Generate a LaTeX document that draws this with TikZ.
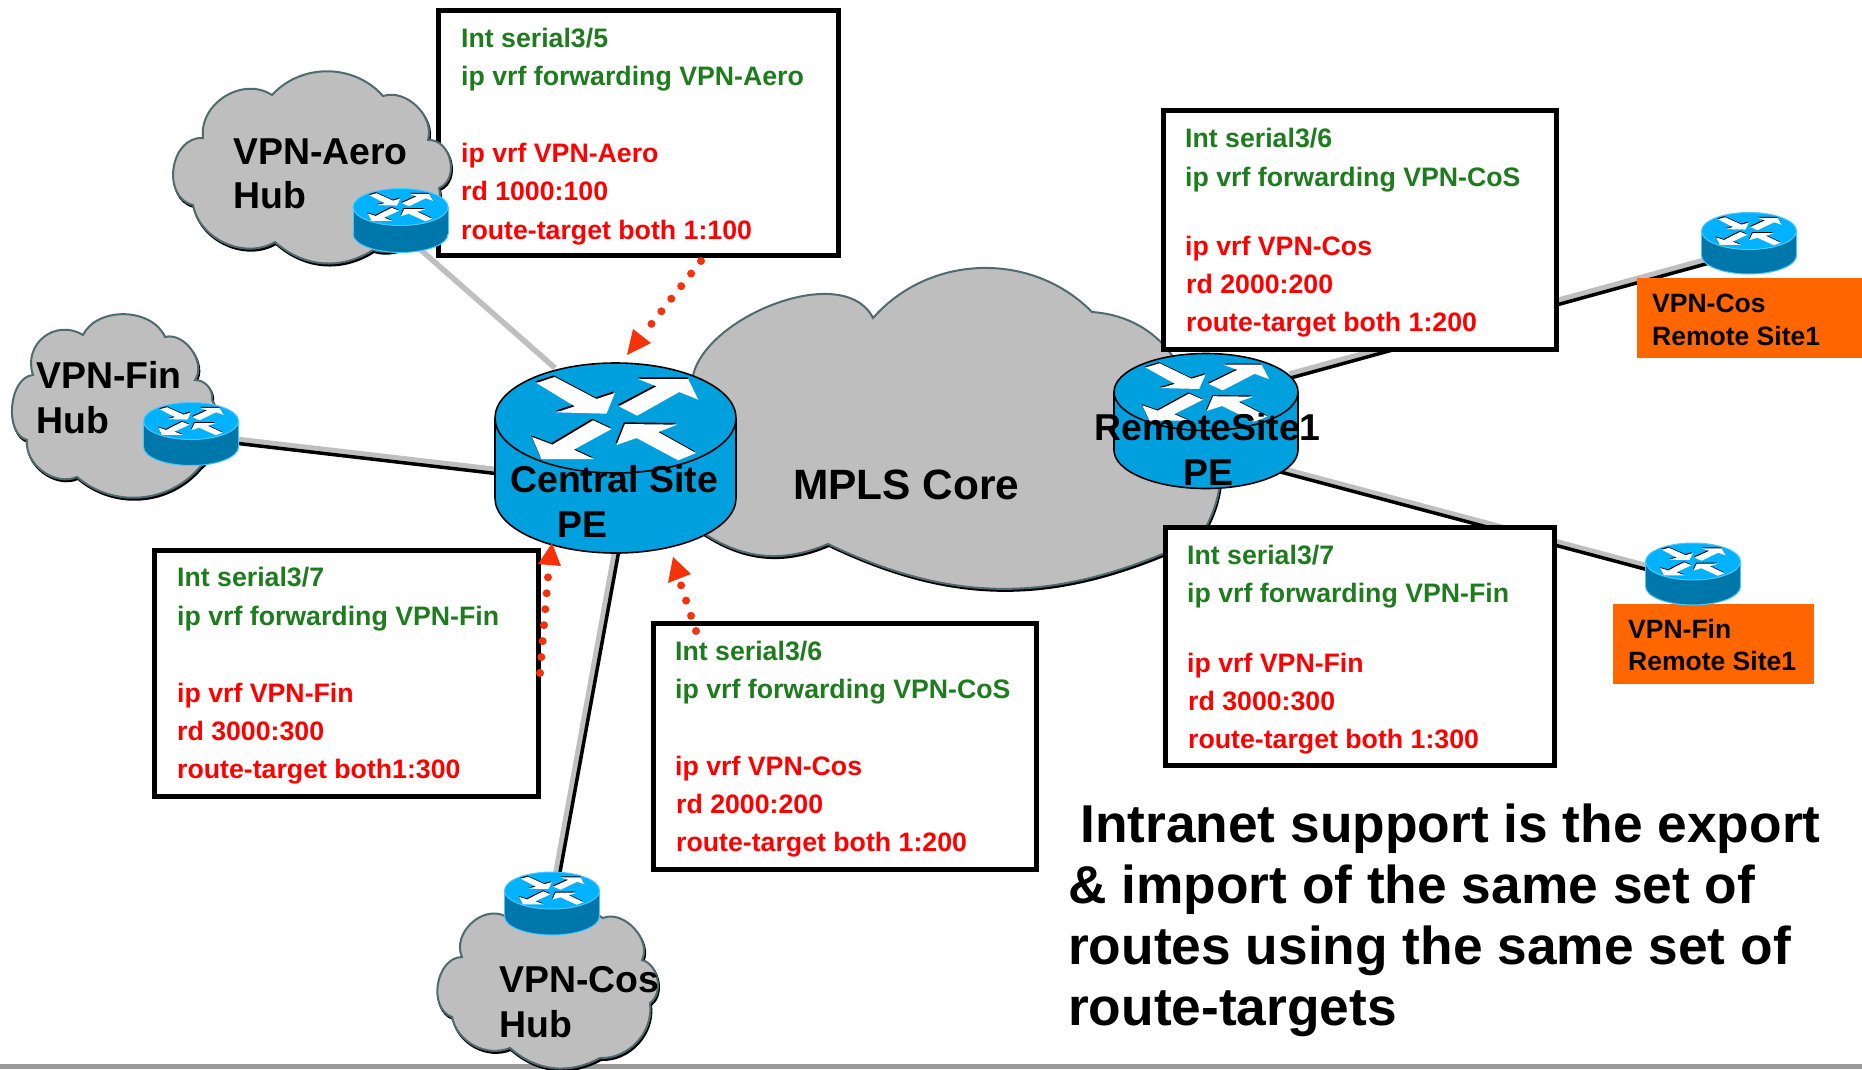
\documentclass[tikz,border=0pt]{standalone}
\usepackage{fontspec}
\setmainfont{Liberation Sans}
\usetikzlibrary{calc}
\definecolor{cloudfill}{HTML}{BEBEBE}
\definecolor{cloudline}{HTML}{506A70}
\definecolor{bigblue}{HTML}{00A0DF}
\definecolor{smalltop}{HTML}{00B2FF}
\definecolor{smallbody}{HTML}{0077AA}
\definecolor{smallrim}{HTML}{4CC8FF}
\definecolor{cfggreen}{HTML}{1E7B1E}
\definecolor{cfgred}{HTML}{FF0000}
\definecolor{sitebox}{HTML}{FF6600}
\definecolor{dotred}{HTML}{F5320A}
\definecolor{linkgrey}{HTML}{BFBFBF}
\definecolor{barcol}{HTML}{999999}
\tikzset{
  x=1pt,y=-1pt,
  cfgbox/.style={draw=black,line width=5pt,fill=white,inner sep=0pt,anchor=north west},
  cfgtext/.style={anchor=base west,inner sep=0pt,font=\fontsize{26.7}{26}\selectfont\bfseries},
  gl/.style={cfgtext,text=cfggreen},
  rl/.style={cfgtext,text=cfgred},
  lab/.style={anchor=base west,inner sep=0pt,font=\fontsize{37.4}{40}\selectfont\bfseries,text=black},
  sitelab/.style={anchor=base west,inner sep=0pt,font=\fontsize{26.5}{26}\selectfont\bfseries,text=black},
  intra/.style={anchor=base west,inner sep=0pt,font=\fontsize{53.3}{54}\selectfont\bfseries,text=black},
  sitefill/.style={fill=sitebox,draw=none,anchor=north west,inner sep=0pt},
  dots/.style={draw=dotred,line width=8pt,line cap=round,dash pattern=on 0pt off 16pt},
  tiptri/.style={fill=dotred,draw=none},
  cloudshape/.style={fill=cloudfill,draw=cloudline,line width=2pt},
  cloudshadow/.style={fill=black,draw=black,line width=2pt},
  greylink/.style={draw=linkgrey,line width=5.5pt},
  blacklink/.style={draw=black,line width=3.5pt},
}
\newcommand{\routerarrows}{%
  (-237,-105)--(-182,-123)--(-57,-57)--(-2,-75)--(-27,-13)--(-177,-17)--(-122,-35)--cycle
  (10,-35)--(123,-95)--(68,-117)--(218,-117)--(248,-55)--(191,-78)--(65,-7)--cycle
  (-67,7)--(-12,33)--(-125,95)--(-65,123)--(-222,123)--(-250,57)--(-189,80)--cycle
  (3,81)--(28,18)--(185,20)--(128,42)--(241,105)--(188,127)--(63,60)--cycle}
\newcommand{\routerbig}[6]{%
  \begin{scope}[shift={(#2,#3)}]
    \fill[bigblue,draw=black,line width=1.6pt] (0,#6) ellipse [x radius=#4,y radius=#5];
    \fill[bigblue] (-#4,0) rectangle (#4,#6);
    \draw[black,line width=1.6pt] (-#4,0)--(-#4,#6) (#4,0)--(#4,#6);
    \fill[bigblue,draw=black,line width=1.6pt] (0,0) ellipse [x radius=#4,y radius=#5];
    \begin{scope}[xscale=#4/361,yscale=#5/165]
      \fill[black,shift={(-3,-5)}] \routerarrows;
      \fill[white] \routerarrows;
    \end{scope}
    \coordinate (#1) at (0,{#6/2});
  \end{scope}}
\newcommand{\routersmall}[6]{%
  \begin{scope}[shift={(#2,#3)}]
    \fill[smallbody,draw=smallrim,line width=1pt] (0,#6) ellipse [x radius=#4,y radius=#5];
    \fill[smallbody] (-#4,0) rectangle (#4,#6);
    \draw[smallrim,line width=1pt] (-#4,0)--(-#4,#6) (#4,0)--(#4,#6);
    \fill[smalltop,draw=smallrim,line width=1pt] (0,0) ellipse [x radius=#4,y radius=#5];
    \begin{scope}[xscale=#4/361,yscale=#5/165]
      \fill[black,shift={(-4,-9)}] \routerarrows;
      \fill[white] \routerarrows;
    \end{scope}
    \coordinate (#1) at (0,{#6/2});
  \end{scope}}
% \dlink{a}{b}{dx}{dy}: grey on one side, black on the other
\newcommand{\dlink}[4]{%
  \draw[greylink,transform canvas={shift={(-#3pt,#4pt)}}] (#1)--(#2);
  \draw[blacklink,transform canvas={shift={(#3pt,-#4pt)}}] (#1)--(#2);}
\begin{document}
\begin{tikzpicture}
\useasboundingbox (0,0) rectangle (1862,1069);
\fill[white] (0,0) rectangle (1862,1069);
\fill[barcol] (0,1064) rectangle (1862,1069);

\coordinate (cA) at (555,368);
\coordinate (cF) at (500,472);
\coordinate (cC) at (617,550);
\coordinate (rC) at (1290,376);
\coordinate (rF) at (1280,470);
\coordinate (rtrA) at (405,236);
\coordinate (rtrF) at (191,436);
\coordinate (rtrC) at (552,905);
\coordinate (rtrRC) at (1749,250);
\coordinate (rtrRF) at (1693,580);

% MPLS cloud
\def\mplspath{(695,400) to[bend left=88,looseness=0.95] (873,318) to[bend left=47] (1092,312) to[bend left=38] (1190,400) to[bend left=35] (1207,525) to[bend left=30] (1165,553) to[bend left=24] (828,544) to[bend left=28] (703,533) -- cycle}
\fill[cloudshadow,shift={(1,2)}] \mplspath;
\draw[cloudshape] \mplspath;

% links
\draw[greylink] (rtrA)--(cA);
\dlink{rtrF}{cF}{0}{2}
\dlink{rtrC}{cC}{2}{0}
\dlink{rC}{rtrRC}{0.5}{2}
\dlink{rF}{rtrRF}{0.5}{2}

% config boxes
\node[cfgbox,minimum width=400pt,minimum height=245pt] (bA) at (436,7.6) {};
\node[cfgbox,minimum width=393pt,minimum height=239pt] (bC) at (1161,107.6) {};
\node[cfgbox,minimum width=389pt,minimum height=238pt] (bF) at (1163,524.6) {};
\node[cfgbox,minimum width=384pt,minimum height=246pt] (bL) at (152,547.6) {};
\node[cfgbox,minimum width=383pt,minimum height=246pt] (bM) at (651,620.6) {};

% Aero cloud
\def\aeropath{(203,138) to[bend left=65,looseness=1.1] (272,95) to[bend left=48] (383,96) to[bend left=62] (428,140) to[bend left=80,looseness=1.2] (439,188) to[bend left=60] (373,250) to[bend left=37] (275,242) to[bend left=55] (193,205) to[bend left=85,looseness=1.25] cycle}
\fill[cloudshadow,shift={(1,2)}] \aeropath;
\draw[cloudshape] \aeropath;

% Fin cloud
\def\finpath{(33,375) to[bend left=70,looseness=1.3] (83,335) to[bend left=65] (165,337) to[bend left=70] (195,380) to[bend left=50] (212,400) to[bend left=40] (200,467) to[bend left=45] (77,477) to[bend left=60] (27,440) to[bend left=80,looseness=0.95] cycle}
\fill[cloudshadow,shift={(1,2)}] \finpath;
\draw[cloudshape] \finpath;

% Cos cloud
\def\cospath{(462,957) to[bend left=70,looseness=1.1] (505,916) to[bend left=30] (603,918) to[bend left=70] (642,960) to[bend left=65] (650,1003) to[bend left=50] (600,1058) to[bend left=35] (510,1048) to[bend left=50] (452,1017) to[bend left=80,looseness=1.1] cycle}
\fill[cloudshadow,shift={(1,2)}] \cospath;
\draw[cloudshape] \cospath;

% site boxes
\node[sitefill,minimum width=225pt,minimum height=80pt] (sC) at (1637,278) {};
\node[sitefill,minimum width=201pt,minimum height=80pt] (sF) at (1613,604) {};

% routers
\routersmall{ra}{400.5}{207}{47.5}{18.5}{27}
\routersmall{rf}{191}{421}{47.5}{18.5}{26}
\routersmall{rc}{552}{890.5}{47.5}{18.5}{26}
\routersmall{rrc}{1749}{231}{47.5}{18.5}{24.5}
\routersmall{rrf}{1693}{561.5}{47.5}{18.5}{25}
\routerbig{pc}{615.5}{418}{120.5}{55}{80}
\routerbig{pr}{1206}{392}{92}{38.5}{58}

\node[sitelab] (tsC1) at (1652,312) {VPN-Cos};
\node[sitelab] (tsC2) at (1652,345) {Remote Site1};
\node[sitelab] (tsF1) at (1628,638) {VPN-Fin};
\node[sitelab] (tsF2) at (1628,670) {Remote Site1};

\node[gl] (a1) at (461,47) {Int serial3/5};
\node[gl] (a2) at (461,85) {ip vrf forwarding VPN-Aero};
\node[rl] (a3) at (461,162) {ip vrf VPN-Aero};
\node[rl] (a4) at (461,200) {rd 1000:100};
\node[rl] (a5) at (461,239) {route-target both 1:100};
\node[gl] (c1) at (1185,147) {Int serial3/6};
\node[gl] (c2) at (1185,186) {ip vrf forwarding VPN-CoS};
\node[rl] (c3) at (1185,255) {ip vrf VPN-Cos};
\node[rl] (c4) at (1186,293) {rd 2000:200};
\node[rl] (c5) at (1186,331) {route-target both 1:200};
\node[gl] (f1) at (1187,564) {Int serial3/7};
\node[gl] (f2) at (1187,602) {ip vrf forwarding VPN-Fin};
\node[rl] (f3) at (1187,672) {ip vrf VPN-Fin};
\node[rl] (f4) at (1188,710) {rd 3000:300};
\node[rl] (f5) at (1188,748) {route-target both 1:300};
\node[gl] (l1) at (177,586) {Int serial3/7};
\node[gl] (l2) at (177,625) {ip vrf forwarding VPN-Fin};
\node[rl] (l3) at (177,702) {ip vrf VPN-Fin};
\node[rl] (l4) at (177,740) {rd 3000:300};
\node[rl] (l5) at (177,778) {route-target both1:300};
\node[gl] (m1) at (675,660) {Int serial3/6};
\node[gl] (m2) at (675,698) {ip vrf forwarding VPN-CoS};
\node[rl] (m3) at (675,775) {ip vrf VPN-Cos};
\node[rl] (m4) at (676,813) {rd 2000:200};
\node[rl] (m5) at (676,851) {route-target both 1:200};

\node[lab] (tA1) at (233,164) {VPN-Aero};
\node[lab] (tA2) at (233,208) {Hub};
\node[lab] (tF1) at (36,388) {VPN-Fin};
\node[lab] (tF2) at (36,433) {Hub};
\node[lab] (tC1) at (499,992) {VPN-Cos};
\node[lab] (tC2) at (499,1037) {Hub};
\node[lab] (tP1) at (510,492) {Central Site};
\node[lab] (tP2) at (557,537) {PE};
\node[lab] (tR1) at (1094,440) {RemoteSite1};
\node[lab] (tR2) at (1183,485) {PE};
\node[lab,font=\fontsize{42.4}{44}\selectfont\bfseries] (tM) at (793,499) {MPLS Core};

\node[intra] (i1) at (1080,842) {Intranet support is the export};
\node[intra] (i2) at (1068,903) {\& import of the same set of};
\node[intra] (i3) at (1068,964) {routes using the same set of};
\node[intra] (i4) at (1068,1025) {route-targets};

% dotted arrows
\coordinate (d1s) at (701,261);
\coordinate (d1e) at (649,327);
\coordinate (d2s) at (540,673);
\coordinate (d2e) at (548,577);
\coordinate (d3s) at (696,631);
\coordinate (d3e) at (681,585);
\draw[dots] (d1s)--(d1e);
\draw[dots] (d2s)--(d2e);
\draw[dots] (d3s)--(d3e);
\fill[tiptri] (633,329)--(651,343)--(627,355)--cycle;
\fill[tiptri] (552,543)--(538,564)--(561,566)--cycle;
\fill[tiptri] (673,557)--(668,583)--(691,574)--cycle;
\end{tikzpicture}
\end{document}
